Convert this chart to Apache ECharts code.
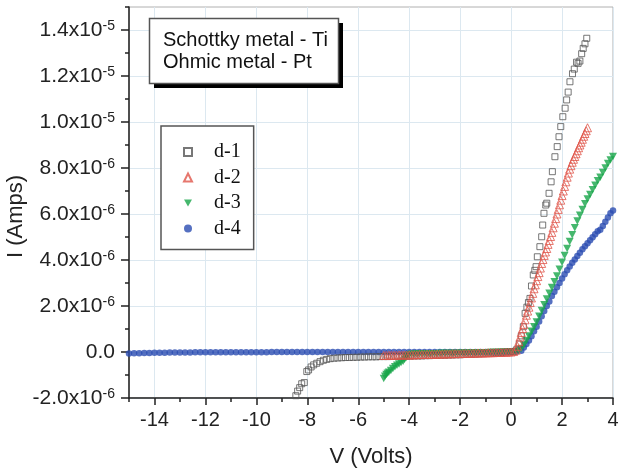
<!DOCTYPE html>
<html>
<head>
<meta charset="utf-8">
<script src="https://cdn.jsdelivr.net/npm/echarts@6/dist/echarts.min.js"></script>
<style>
  html, body { margin: 0; padding: 0; background: #fff; }
  #chart { width: 619px; height: 473px; }
</style>
</head>
<body>
<div id="chart"></div>
<script>
// I-V sweeps of four Ti/Pt diodes. Each point is [V (volts), I (microamps)].
const MICRO = 1e-6;

const d1 = [
  [-8.45,-1.90],[-8.38,-1.70],[-8.30,-1.55],[-8.22,-1.38],[-8.12,-1.33],[-8.02,-0.85],[-7.95,-0.78],
  [-7.85,-0.65],[-7.75,-0.56],[-7.63,-0.49],[-7.50,-0.42],[-7.37,-0.36],[-7.24,-0.32],[-7.10,-0.29],
  [-6.95,-0.27],[-6.80,-0.26],[-6.65,-0.25],[-6.50,-0.24],[-6.35,-0.24],[-6.20,-0.23],[-6.05,-0.23],
  [-5.90,-0.22],[-5.75,-0.22],[-5.60,-0.21],[-5.45,-0.21],[-5.30,-0.21],[-5.15,-0.20],[-5.00,-0.20],
  [-4.85,-0.20],[-4.70,-0.19],[-4.55,-0.19],[-4.40,-0.19],[-4.25,-0.18],[-4.10,-0.18],[-3.95,-0.18],
  [-3.80,-0.17],[-3.65,-0.17],[-3.50,-0.17],[-3.35,-0.16],[-3.20,-0.16],[-3.05,-0.15],[-2.90,-0.15],
  [-2.75,-0.14],[-2.60,-0.14],[-2.45,-0.13],[-2.30,-0.13],[-2.15,-0.12],[-2.00,-0.12],[-1.85,-0.11],
  [-1.70,-0.10],[-1.55,-0.10],[-1.40,-0.09],[-1.25,-0.08],[-1.10,-0.07],[-0.95,-0.06],[-0.80,-0.05],
  [-0.65,-0.04],[-0.50,-0.03],[-0.35,-0.02],[-0.20,-0.01],[-0.05,0.00],[0.10,0.02],[0.22,0.10],
  [0.32,0.35],[0.40,0.70],[0.48,1.10],[0.55,1.68],[0.62,1.95],[0.68,2.15],[0.74,2.33],[0.80,2.87],
  [0.87,3.35],[0.93,3.55],[0.98,3.71],[1.03,4.14],[1.13,4.58],[1.20,5.01],[1.24,5.52],[1.29,6.03],
  [1.36,6.39],[1.40,6.47],[1.49,6.90],[1.57,7.40],[1.62,7.84],[1.72,8.49],[1.81,8.93],[1.88,9.36],
  [1.95,9.80],[2.03,10.23],[2.12,10.60],[2.18,10.96],[2.24,11.30],[2.31,11.75],[2.41,12.10],
  [2.48,12.30],[2.57,12.60],[2.63,12.55],[2.70,12.65],[2.77,12.97],[2.83,13.20],[2.90,13.40],[2.97,13.64]
];

const d2 = [
  [-5.0,-0.15],[-4.9,-0.15],[-4.8,-0.14],[-4.7,-0.14],[-4.6,-0.14],[-4.5,-0.14],[-4.4,-0.13],[-4.3,-0.13],
  [-4.2,-0.13],[-4.1,-0.13],[-4.0,-0.13],[-3.9,-0.12],[-3.8,-0.12],[-3.7,-0.12],[-3.6,-0.11],[-3.5,-0.11],
  [-3.4,-0.11],[-3.3,-0.10],[-3.2,-0.10],[-3.1,-0.10],[-3.0,-0.10],[-2.9,-0.09],[-2.8,-0.09],[-2.7,-0.09],
  [-2.6,-0.08],[-2.5,-0.08],[-2.4,-0.08],[-2.3,-0.07],[-2.2,-0.07],[-2.1,-0.07],[-2.0,-0.07],[-1.9,-0.06],
  [-1.8,-0.06],[-1.7,-0.06],[-1.6,-0.05],[-1.5,-0.05],[-1.4,-0.05],[-1.3,-0.04],[-1.2,-0.04],[-1.1,-0.04],
  [-1.0,-0.04],[-0.9,-0.03],[-0.8,-0.03],[-0.7,-0.03],[-0.6,-0.02],[-0.5,-0.02],[-0.4,-0.02],[-0.3,-0.01],
  [-0.2,-0.01],[-0.1,0.00],[0.0,0.00],[0.1,0.02],
  [0.20,0.08],[0.25,0.25],[0.30,0.45],[0.35,0.65],[0.40,0.85],[0.45,1.02],[0.50,1.20],[0.55,1.40],
  [0.60,1.60],[0.65,1.78],[0.70,1.95],[0.75,2.15],[0.80,2.35],[0.85,2.55],[0.90,2.75],[0.95,2.92],
  [1.00,3.10],[1.05,3.28],[1.10,3.45],[1.15,3.65],[1.20,3.85],[1.25,4.02],[1.30,4.20],[1.35,4.35],
  [1.40,4.50],[1.45,4.68],[1.50,4.85],[1.55,5.02],[1.60,5.20],[1.65,5.40],[1.70,5.60],[1.75,5.80],
  [1.80,6.00],[1.85,6.20],[1.90,6.40],[1.95,6.60],[2.00,6.80],[2.05,7.00],[2.10,7.20],[2.15,7.40],
  [2.20,7.60],[2.25,7.78],[2.30,7.95],[2.35,8.10],[2.40,8.25],[2.45,8.38],[2.50,8.50],[2.55,8.62],
  [2.60,8.75],[2.65,8.88],[2.70,9.00],[2.75,9.12],[2.80,9.25],[2.85,9.38],[2.90,9.50],[2.95,9.62],[3.00,9.75]
];

const d3 = [
  [-5.00,-1.15],[-4.95,-1.05],[-4.90,-0.98],[-4.85,-0.92],[-4.80,-0.88],[-4.72,-0.80],[-4.64,-0.72],
  [-4.56,-0.64],[-4.48,-0.58],[-4.40,-0.52],[-4.32,-0.46],[-4.24,-0.40],[-4.18,-0.32],[-4.12,-0.24],
  [-4.06,-0.17],[-4.00,-0.13],
  [-3.9,-0.10],[-3.8,-0.10],[-3.7,-0.10],[-3.6,-0.09],[-3.5,-0.09],[-3.4,-0.09],[-3.3,-0.09],[-3.2,-0.08],
  [-3.1,-0.08],[-3.0,-0.08],[-2.9,-0.08],[-2.8,-0.07],[-2.7,-0.07],[-2.6,-0.07],[-2.5,-0.07],[-2.4,-0.06],
  [-2.3,-0.06],[-2.2,-0.06],[-2.1,-0.06],[-2.0,-0.05],[-1.9,-0.05],[-1.8,-0.05],[-1.7,-0.05],[-1.6,-0.04],
  [-1.5,-0.04],[-1.4,-0.04],[-1.3,-0.04],[-1.2,-0.03],[-1.1,-0.03],[-1.0,-0.03],[-0.9,-0.03],[-0.8,-0.02],
  [-0.7,-0.02],[-0.6,-0.02],[-0.5,-0.02],[-0.4,-0.01],[-0.3,-0.01],[-0.2,-0.01],[-0.1,0.00],[0.0,0.00],
  [0.1,0.01],[0.2,0.02],
  [0.3,0.05],[0.4,0.15],[0.5,0.30],[0.6,0.50],[0.7,0.70],[0.8,0.90],[0.9,1.10],[1.0,1.30],[1.1,1.55],
  [1.2,1.80],[1.3,2.05],[1.4,2.30],[1.5,2.55],[1.6,2.80],[1.7,3.05],[1.8,3.30],[1.9,3.60],[2.0,3.90],
  [2.1,4.20],[2.2,4.50],[2.3,4.80],[2.4,5.10],[2.5,5.40],[2.6,5.70],[2.7,5.95],[2.8,6.20],[2.9,6.45],
  [3.0,6.65],[3.1,6.85],[3.2,7.05],[3.3,7.25],[3.4,7.45],[3.5,7.60],[3.6,7.80],[3.7,8.00],[3.8,8.20],
  [3.9,8.35],[4.0,8.50]
];

const d4 = [
  [-15.0,-0.06],[-14.8,-0.05],[-14.6,-0.05],[-14.4,-0.04],[-14.2,-0.04],[-14.0,-0.03],[-13.8,-0.03],
  [-13.6,-0.03],[-13.4,-0.02],[-13.2,-0.02],[-13.0,-0.02],[-12.8,-0.02],[-12.6,-0.02],[-12.4,-0.01],
  [-12.2,-0.01],[-12.0,-0.01],[-11.8,-0.01],[-11.6,-0.01],[-11.4,-0.01],[-11.2,-0.01],[-11.0,-0.01],
  [-10.8,-0.01],[-10.6,-0.01],[-10.4,-0.01],[-10.2,-0.01],[-10.0,-0.01],[-9.8,-0.01],[-9.6,-0.01],
  [-9.4,0.00],[-9.2,0.00],[-9.0,0.00],[-8.8,0.00],[-8.6,0.00],[-8.4,0.00],[-8.2,0.00],[-8.0,0.00],
  [-7.8,0.00],[-7.6,0.00],[-7.4,0.00],[-7.2,0.00],[-7.0,0.00],[-6.8,0.00],[-6.6,0.00],[-6.4,0.00],
  [-6.2,0.00],[-6.0,0.00],[-5.8,0.00],[-5.6,0.00],[-5.4,0.00],[-5.2,0.00],[-5.0,0.00],[-4.8,0.00],
  [-4.6,0.00],[-4.4,0.00],[-4.2,0.00],[-4.0,0.00],[-3.8,0.00],[-3.6,0.00],[-3.4,0.00],[-3.2,0.00],
  [-3.0,0.00],[-2.8,0.00],[-2.6,0.00],[-2.4,0.00],[-2.2,0.00],[-2.0,0.00],[-1.8,0.00],[-1.6,0.00],
  [-1.4,0.00],[-1.2,0.00],[-1.0,0.00],[-0.8,0.00],[-0.6,0.00],[-0.4,0.00],[-0.2,0.00],[0.0,0.00],
  [0.2,0.01],[0.4,0.05],
  [0.5,0.20],[0.6,0.35],[0.7,0.50],[0.8,0.68],[0.9,0.90],[1.0,1.10],[1.1,1.33],[1.2,1.55],[1.3,1.78],
  [1.4,2.00],[1.5,2.20],[1.6,2.43],[1.7,2.62],[1.8,2.82],[1.9,3.00],[2.0,3.20],[2.1,3.38],[2.2,3.55],
  [2.3,3.72],[2.4,3.88],[2.5,4.02],[2.6,4.17],[2.7,4.32],[2.8,4.47],[2.9,4.60],[3.0,4.73],[3.1,4.86],
  [3.2,4.99],[3.3,5.12],[3.4,5.25],[3.5,5.32],[3.6,5.48],[3.7,5.66],[3.8,5.85],[3.9,6.03],[4.0,6.15]
];

const seriesNames = ['d-1', 'd-2', 'd-3', 'd-4'];
// Labelled (major) tick values; minor ticks fall every 1 V / 1 µA between them.
const voltTicks = [-14, -12, -10, -8, -6, -4, -2, 0, 2, 4];
const currentTicksMicro = [-2, 0, 2, 4, 6, 8, 10, 12, 14];
const xRange = { min: -15, max: 4, minorStep: 1 };
const yRange = { min: -2e-6, max: 1.5e-5, minorStep: 1e-6 };

const toAmps = pts => pts.map(p => [p[0], p[1] * MICRO]);
const currentTicks = currentTicksMicro.map(k => k * MICRO);

const SANS = 'Liberation Sans, Arial, sans-serif';
const SERIF = 'Liberation Serif, Times New Roman, serif';
const INK = '#222';

function currentLabel(v) {
  const k = Math.round(v / MICRO);
  if (k === 0) return '{z|0.0}';
  const exp = Math.abs(k) >= 10 ? -5 : -6;
  const mant = k / Math.pow(10, exp + 6);
  return '{m|' + mant.toFixed(1) + 'x10}{e|' + exp + '}';
}

const chart = echarts.init(document.getElementById('chart'), null, { renderer: 'canvas' });

chart.setOption({
  animation: false,
  backgroundColor: '#fff',
  grid: {
    left: 129, right: 6, top: 7, bottom: 75,
    containLabel: false, outerBoundsMode: 'none',
    show: true, borderColor: '#b0b0b0', borderWidth: 1, backgroundColor: 'transparent'
  },
  xAxis: [
    {
      type: 'value', position: 'bottom',
      min: xRange.min, max: xRange.max,
      name: 'V (Volts)', nameLocation: 'middle', nameGap: 48, nameMoveOverlap: false,
      nameTextStyle: { fontFamily: SANS, fontSize: 22, color: INK },
      axisLine: { onZero: false, lineStyle: { color: INK, width: 1.5 } },
      axisTick: { inside: false, length: 7, customValues: voltTicks, lineStyle: { color: INK, width: 1.5 } },
      axisLabel: {
        margin: 12, fontFamily: SANS, fontSize: 20, color: INK,
        customValues: voltTicks,
        formatter: v => String(Math.round(v))
      },
      splitLine: { show: true, lineStyle: { color: '#dce8f0', width: 1 } }
    },
    {
      // minor ticks every volt
      type: 'value', position: 'bottom', gridIndex: 0,
      min: xRange.min, max: xRange.max, interval: xRange.minorStep,
      axisLine: { show: false, onZero: false },
      axisTick: { inside: false, length: 4, lineStyle: { color: INK, width: 1.5 } },
      axisLabel: { show: false },
      splitLine: { show: false }
    }
  ],
  yAxis: [
    {
      type: 'value', position: 'left',
      min: yRange.min, max: yRange.max,
      name: 'I (Amps)', nameLocation: 'middle', nameGap: 102, nameRotate: 90, nameMoveOverlap: false,
      nameTextStyle: { fontFamily: SANS, fontSize: 22, color: INK, padding: [0, 28, 0, 0] },
      axisLine: { onZero: false, lineStyle: { color: INK, width: 1.5 } },
      axisTick: { inside: false, length: 8, customValues: currentTicks, lineStyle: { color: INK, width: 1.5 } },
      axisLabel: {
        margin: 14, fontFamily: SANS, color: INK,
        customValues: currentTicks,
        formatter: currentLabel,
        rich: {
          m: { fontFamily: SANS, fontSize: 21, color: INK, lineHeight: 22, padding: [5, 0, 0, 0], verticalAlign: 'bottom' },
          e: { fontFamily: SANS, fontSize: 14, color: INK, lineHeight: 14, verticalAlign: 'top' },
          z: { fontFamily: SANS, fontSize: 21, color: INK, lineHeight: 22 }
        }
      },
      splitLine: { show: true, lineStyle: { color: '#dce8f0', width: 1 } }
    },
    {
      // minor ticks every microamp
      type: 'value', position: 'left', gridIndex: 0,
      min: yRange.min, max: yRange.max, interval: yRange.minorStep,
      axisLine: { show: false, onZero: false },
      axisTick: { inside: false, length: 4, lineStyle: { color: INK, width: 1.5 } },
      axisLabel: { show: false },
      splitLine: { show: false }
    }
  ],
  legend: {
    data: seriesNames,
    orient: 'vertical',
    left: 161, top: 126,
    padding: [16, 13, 11, 22],
    itemGap: 5.5,
    itemWidth: 8, itemHeight: 8,
    backgroundColor: '#fff',
    borderColor: '#555', borderWidth: 1.5,
    textStyle: { fontFamily: SERIF, fontSize: 20, color: '#111', lineHeight: 20, padding: [0, 0, 0, 17] }
  },
  graphic: [
    { type: 'rect', z: 90, shape: { x: 154, y: 23, width: 189, height: 65 }, style: { fill: '#000' } },
    { type: 'rect', z: 91, shape: { x: 149.5, y: 18.5, width: 189, height: 65 }, style: { fill: '#fff', stroke: '#555', lineWidth: 1.5 } },
    { type: 'text', z: 92, x: 163, y: 40, style: { text: 'Schottky metal - Ti', font: '20px ' + SANS, fill: '#111', verticalAlign: 'middle' } },
    { type: 'text', z: 92, x: 163, y: 62, style: { text: 'Ohmic metal - Pt', font: '20px ' + SANS, fill: '#111', verticalAlign: 'middle' } }
  ],
  series: [
    {
      name: 'd-4', type: 'scatter', data: toAmps(d4), z: 2,
      symbol: 'circle', symbolSize: 6.5,
      itemStyle: { color: '#2a4cb2' }
    },
    {
      name: 'd-3', type: 'scatter', data: toAmps(d3), z: 3,
      symbol: 'path://M0,0 L10,0 L5,9 Z', symbolSize: [8, 7.5],
      itemStyle: { color: '#17a548' }
    },
    {
      name: 'd-1', type: 'scatter', data: toAmps(d1), z: 4,
      symbol: 'rect', symbolSize: 6,
      itemStyle: { color: 'rgba(255,255,255,0)', borderColor: '#555', borderWidth: 1 }
    },
    {
      name: 'd-2', type: 'scatter', data: toAmps(d2), z: 5,
      symbol: 'triangle', symbolSize: 8,
      itemStyle: { color: 'rgba(255,255,255,0)', borderColor: '#e0554a', borderWidth: 1 }
    }
  ]
});
</script>
</body>
</html>
